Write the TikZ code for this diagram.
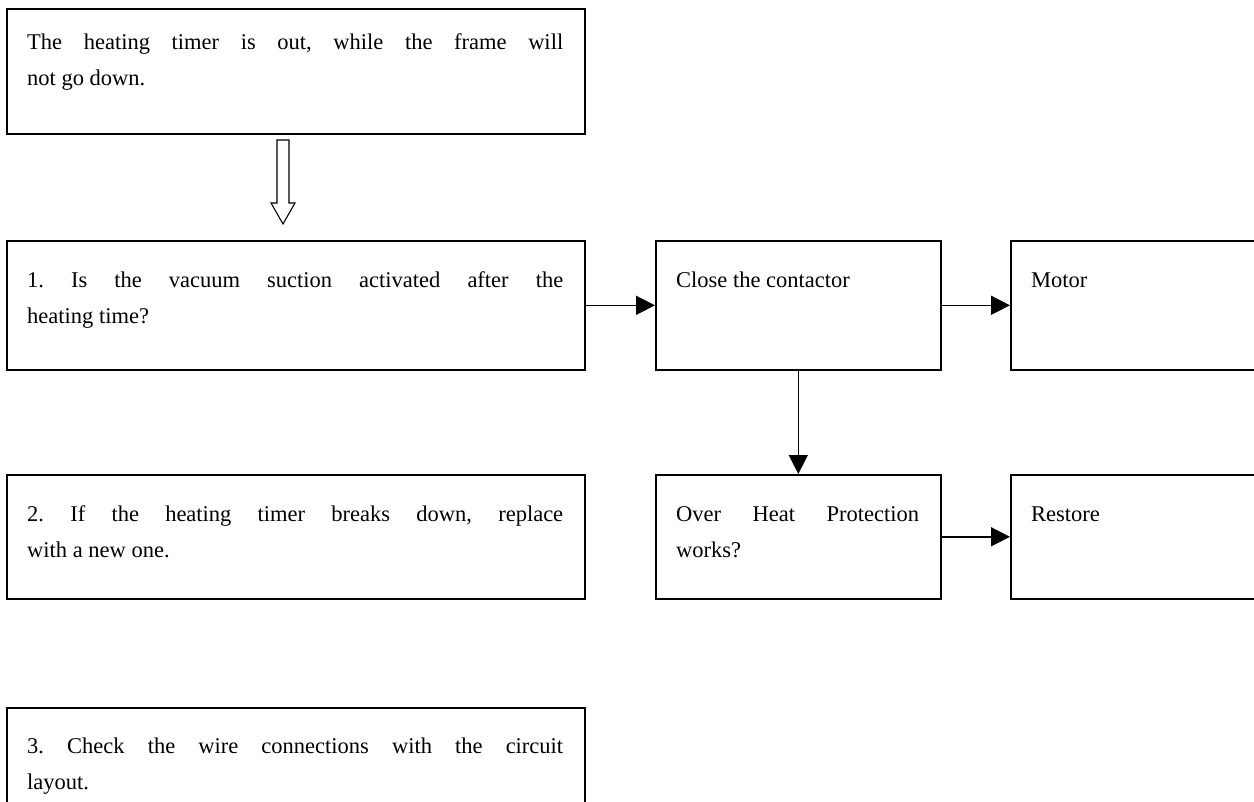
\documentclass[tikz,border=0pt]{standalone}
\usepackage{fontspec}
\setmainfont{Liberation Serif}
\usetikzlibrary{arrows.meta}
\frenchspacing
\begin{document}
\begin{tikzpicture}[x=1pt,y=-1pt,
  box/.style={draw=black,line width=1.6pt,inner sep=0pt,anchor=north west},
  txt/.style={anchor=base west,inner sep=0pt,font=\fontsize{22.5}{27}\selectfont},
  conn/.style={draw=black,line width=1.5pt,-{Triangle[length=19pt,width=19pt]}},
  hollow/.style={draw=black,line width=1.1pt,fill=white,line join=miter}]
\useasboundingbox (0,0) rectangle (1254,802);
\clip (0,0) rectangle (1254,802);
% boxes
\node[box,minimum width=578pt,minimum height=125pt] (top) at (6,8) {};
\node[box,minimum width=578pt,minimum height=129pt] (q1) at (6,240) {};
\node[box,minimum width=578pt,minimum height=124pt] (q2) at (6,474) {};
\node[box,minimum width=578pt,minimum height=140pt] (q3) at (6,707) {};
\node[box,minimum width=285pt,minimum height=129pt] (close) at (655,240) {};
\node[box,minimum width=300pt,minimum height=129pt] (motor) at (1010,240) {};
\node[box,minimum width=285pt,minimum height=124pt] (heat) at (655,474) {};
\node[box,minimum width=300pt,minimum height=124pt] (restore) at (1010,474) {};
% texts
\node[txt] (t1a) at (27,50) {\makebox[536pt][s]{The heating timer is out, while the frame will}};
\node[txt] (t1b) at (27,86) {not go down.};
\node[txt] (q1a) at (27,288) {\makebox[536pt][s]{1. Is the vacuum suction activated after the}};
\node[txt] (q1b) at (27,324) {heating time?};
\node[txt] (q2a) at (27,521) {\makebox[536pt][s]{2. If the heating timer breaks down, replace}};
\node[txt] (q2b) at (27,557) {with a new one.};
\node[txt] (q3a) at (27,753) {\makebox[536pt][s]{3. Check the wire connections with the circuit}};
\node[txt] (q3b) at (27,789) {layout.};
\node[txt] (ct) at (676,288) {Close the contactor};
\node[txt] (mt) at (1031,288) {Motor};
\node[txt] (ha) at (676,521) {\makebox[243pt][s]{Over Heat Protection}};
\node[txt] (hb) at (676,557) {works?};
\node[txt] (rt) at (1031,521) {Restore};
% hollow arrow
\draw[hollow] (277,140) -- (289,140) -- (289,203) -- (295,203) -- (283,224) -- (271,203) -- (277,203) -- cycle;
% connectors
\draw[conn] (q1.east) -- (close.west);
\draw[conn] (close.east) -- (close.east -| motor.west);
\draw[conn] (close.south) -- (heat.north);
\draw[conn] (heat.east) -- (heat.east -| restore.west);
\end{tikzpicture}
\end{document}
